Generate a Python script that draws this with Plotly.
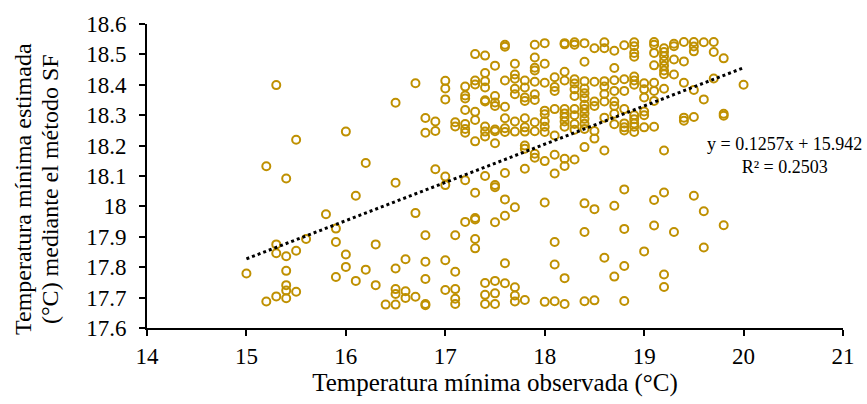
import plotly.graph_objects as go

# Observed minimum temperature (x) and estimated minimum temperature (y), grouped by observed value
groups = {
    15.0: [17.779],
    15.2: [18.132, 17.687],
    15.3: [18.399, 17.875, 17.846, 17.704],
    15.4: [18.092, 17.836, 17.788, 17.741, 17.723, 17.698],
    15.5: [18.219, 17.854, 17.719],
    15.6: [17.893],
    15.8: [17.974],
    15.9: [17.927, 17.883, 17.768],
    16.0: [18.246, 17.842, 17.801],
    16.1: [18.035, 17.755],
    16.2: [18.143, 17.792],
    16.3: [17.875, 17.741],
    16.4: [17.677],
    16.5: [18.341, 18.078, 17.796, 17.728, 17.712, 17.677],
    16.6: [17.826, 17.721, 17.699],
    16.7: [18.405, 17.978, 17.703],
    16.8: [18.291, 18.242, 17.905, 17.818, 17.761, 17.679, 17.675],
    16.9: [18.279, 18.248, 18.122],
    17.0: [18.413, 18.388, 18.352, 18.098, 18.07, 17.823, 17.725],
    17.1: [18.277, 18.263, 17.905, 17.785, 17.728, 17.696, 17.679],
    17.2: [18.394, 18.365, 18.355, 18.317, 18.271, 18.255, 18.242, 18.086, 17.949],
    17.3: [18.501, 18.414, 18.401, 18.311, 18.284, 18.214, 18.045, 17.962, 17.957, 17.893, 17.862],
    17.4: [18.496, 18.439, 18.412, 18.391, 18.349, 18.345, 18.263, 18.246, 18.23, 18.1, 17.748, 17.709, 17.679],
    17.5: [18.463, 18.363, 18.342, 18.33, 18.253, 18.247, 18.208, 18.07, 18.063, 17.948, 17.755, 17.714, 17.679],
    17.6: [18.532, 18.525, 18.414, 18.328, 18.29, 18.257, 18.245, 18.11, 18.023, 17.969, 17.813, 17.747],
    17.7: [18.469, 18.434, 18.42, 18.387, 18.369, 18.279, 18.246, 17.997, 17.734, 17.707, 17.687],
    17.8: [18.414, 18.391, 18.358, 18.347, 18.29, 18.26, 18.246, 18.2, 18.19, 18.124, 17.692],
    17.9: [18.532, 18.49, 18.456, 18.447, 18.41, 18.369, 18.35, 18.277, 18.247, 18.173, 18.16],
    18.0: [18.537, 18.469, 18.407, 18.315, 18.303, 18.28, 18.262, 18.245, 18.149, 18.013, 17.686],
    18.1: [18.425, 18.393, 18.38, 18.32, 18.233, 18.17, 18.108, 17.883, 17.809, 17.688],
    18.2: [18.537, 18.533, 18.443, 18.414, 18.32, 18.306, 18.293, 18.279, 18.262, 18.157, 18.133, 17.764, 17.679],
    18.3: [18.54, 18.532, 18.418, 18.404, 18.385, 18.363, 18.32, 18.3, 18.271, 18.252, 18.154],
    18.4: [18.537, 18.476, 18.412, 18.388, 18.372, 18.356, 18.334, 18.32, 18.306, 18.288, 18.272, 18.255, 18.195, 18.01, 17.916, 17.688],
    18.5: [18.52, 18.41, 18.345, 18.33, 18.248, 18.223, 17.991, 17.691],
    18.6: [18.54, 18.52, 18.412, 18.394, 18.37, 18.345, 18.292, 18.184, 17.831],
    18.7: [18.512, 18.455, 18.415, 18.38, 18.345, 18.33, 18.305, 18.27, 18.002, 17.769],
    18.8: [18.53, 18.418, 18.38, 18.32, 18.273, 18.26, 18.25, 18.056, 17.926, 17.804, 17.689],
    18.9: [18.54, 18.527, 18.505, 18.492, 18.427, 18.414, 18.4, 18.3, 18.287, 18.273, 18.262, 18.245],
    19.0: [18.405, 18.385, 18.358, 18.312, 18.3, 18.26, 17.852],
    19.1: [18.541, 18.532, 18.505, 18.464, 18.407, 18.38, 18.347, 18.262, 18.021, 17.937],
    19.2: [18.52, 18.508, 18.494, 18.478, 18.463, 18.447, 18.435, 18.387, 18.184, 18.046, 17.776, 17.735],
    19.3: [18.535, 18.527, 18.483, 18.434, 17.916],
    19.4: [18.541, 18.477, 18.407, 18.292, 18.282],
    19.5: [18.541, 18.526, 18.51, 18.383, 18.294, 18.035],
    19.6: [18.54, 18.352, 17.984, 17.865],
    19.7: [18.541, 18.508, 18.421],
    19.8: [18.487, 18.305, 18.298, 17.938],
    20.0: [18.4],
}

obs_x = [x for x, ys in groups.items() for _ in ys]
est_y = [y for ys in groups.values() for y in ys]

# Linear trendline as shown on the chart
trend_slope = 0.1257
trend_intercept = 15.942
trend_x = [15.0, 20.0]
trend_y = [trend_slope * x + trend_intercept for x in trend_x]

x_ticks = [14, 15, 16, 17, 18, 19, 20, 21]
y_ticks = [17.6, 17.7, 17.8, 17.9, 18.0, 18.1, 18.2, 18.3, 18.4, 18.5, 18.6]
y_tick_labels = ["17.6", "17.7", "17.8", "17.9", "18", "18.1", "18.2", "18.3", "18.4", "18.5", "18.6"]

x_title = "Temperatura mínima observada (°C)"
y_title_lines = ["Temperatura mínima estimada", "(°C) mediante el método SF"]
equation_text = "y = 0.1257x + 15.942<br>R² = 0.2503"

FONT = "Liberation Serif, Times New Roman, serif"
GOLD = "#BF9000"

ML, MR, MT, MB = 147, 23, 20, 76
W, H = 867, 404
plot_w = W - ML - MR
plot_h = H - MT - MB


def px_to_paper_x(px):
    return (px - ML) / plot_w


def py_to_paper_y(py):
    return (H - MB - py) / plot_h


fig = go.Figure()
fig.add_trace(go.Scatter(
    x=obs_x, y=est_y, mode="markers",
    marker=dict(symbol="circle-open", size=8, color=GOLD, line=dict(width=2, color=GOLD)),
    showlegend=False, hoverinfo="x+y",
))
fig.add_trace(go.Scatter(
    x=trend_x, y=trend_y, mode="lines",
    line=dict(color="black", width=3, dash="dot"),
    showlegend=False, hoverinfo="skip",
))

annotations = [dict(
    x=px_to_paper_x(785), y=py_to_paper_y(153),
    xref="paper", yref="paper", xanchor="center", yanchor="middle",
    text=equation_text, showarrow=False, font=dict(size=18, family=FONT), align="center",
)]
for line_text, cx in zip(y_title_lines, [23, 50]):
    annotations.append(dict(
        x=px_to_paper_x(cx), y=py_to_paper_y(187),
        xref="paper", yref="paper", xanchor="center", yanchor="middle",
        text=line_text, textangle=-90, showarrow=False,
        font=dict(size=24, family=FONT),
    ))

fig.update_layout(
    width=W, height=H,
    margin=dict(l=ML, r=MR, t=MT, b=MB),
    paper_bgcolor="white", plot_bgcolor="white",
    font=dict(family=FONT, size=23, color="black"),
    xaxis=dict(
        range=[14, 21], tickvals=x_ticks, ticktext=[str(t) for t in x_ticks],
        showline=True, linecolor="black", linewidth=2, ticks="outside", ticklen=6,
        tickwidth=2, tickcolor="black", showgrid=False, zeroline=False,
        title=dict(text=x_title, font=dict(size=25, family=FONT), standoff=6),
        tickfont=dict(size=23, family=FONT),
    ),
    yaxis=dict(
        range=[17.6, 18.6], tickvals=y_ticks, ticktext=y_tick_labels,
        showline=True, linecolor="black", linewidth=2, ticks="outside", ticklen=6,
        tickwidth=2, tickcolor="black", showgrid=False, zeroline=False,
        ticklabelstandoff=8,
        tickfont=dict(size=23, family=FONT),
    ),
    annotations=annotations,
)

fig.write_html("out.html")
